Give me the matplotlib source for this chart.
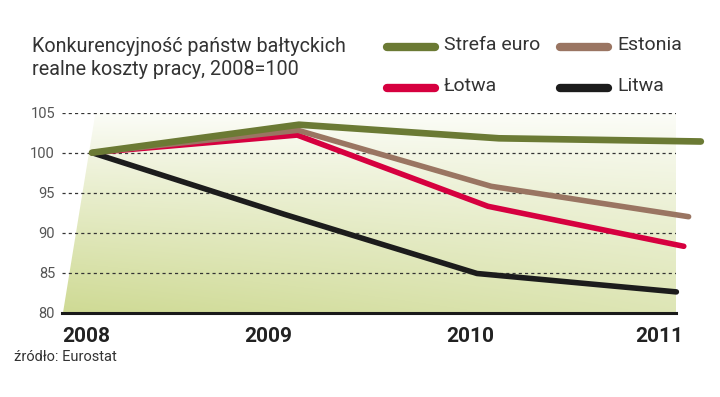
import matplotlib
matplotlib.use("Agg")
import matplotlib.pyplot as plt
import numpy as np
from matplotlib.lines import Line2D
from matplotlib.patches import Polygon

plt.rcParams["font.family"] = ["Roboto", "DejaVu Sans"]

years = [2008, 2009, 2010, 2011]
year_labels = ["2008", "2009", "2010", "2011"]
strefa_euro = [100, 103.5, 101.8, 101.4]
estonia = [100, 102.8, 95.8, 92.0]
lotwa = [100, 102.2, 93.3, 88.3]
litwa = [100, 92.3, 84.9, 82.6]
y_ticks = [80, 85, 90, 95, 100, 105]

title = "Konkurencyjność państw bałtyckich\nrealne koszty pracy, 2008=100"
source = "źródło: Eurostat"

W, H = 720, 397
fig = plt.figure(figsize=(W / 100, H / 100), dpi=100)
fig.patch.set_facecolor("white")

# axes box in pixels: x 62..676, y (80) 312.7 .. (105) 112.7
ax = fig.add_axes([62 / W, 1 - 312.7 / H, (676 - 62) / W, 200 / H])
px_per_year = 202.3
x_left = 2008 - 4 / px_per_year
x_right = 2011 + 3 / px_per_year
ax.set_xlim(x_left, x_right)
ax.set_ylim(80, 105)
ax.set_facecolor("none")

# the chart is drawn slanted: x shifts right as value grows
skew = 1.3 / px_per_year


def slant(xs, vs):
    return np.asarray(xs, float) + skew * (np.asarray(vs, float) - 80)


# gradient parallelogram behind the lines
bx0 = 2008 - 3 / px_per_year
bx1 = 2011 + 4 / px_per_year
corners = [(bx0, 80), (bx1, 80), (bx1 + skew * 25, 105), (bx0 + skew * 25, 105)]
poly = Polygon(corners, closed=True, facecolor="none", edgecolor="none")
ax.add_patch(poly)
ny, nx = 200, 300
gy = np.linspace(1, 0, ny)[:, None]          # row 0 = bottom
gx = np.linspace(0, 1, nx)[None, :]
t = (gy ** 0.9) * (1 - 0.35 * gx)
t = 0.06 + 0.94 * t
dark = np.array([0.81, 0.855, 0.58])
img = 1 - t[..., None] * (1 - dark)
im = ax.imshow(img, extent=[bx0, bx1 + skew * 25, 80, 105], origin="lower",
               aspect="auto", zorder=0, interpolation="bilinear")
im.set_clip_path(poly)

for v in y_ticks[1:]:
    ax.axhline(v, color="#333333", lw=0.9, ls=(0, (2.5, 2.5)), zorder=1)

series = [
    ("Łotwa", lotwa, "#d6003f", 4.0),
    ("Litwa", litwa, "#1c1c1c", 4.0),
    ("Estonia", estonia, "#9a7562", 4.0),
    ("Strefa euro", strefa_euro, "#6b7a34", 4.8),
]
for name, vals, col, lw in series:
    ax.plot(slant(years, vals), vals, color=col, lw=lw, solid_capstyle="round",
            solid_joinstyle="round", clip_on=False, zorder=3)

for s in ["top", "right", "left"]:
    ax.spines[s].set_visible(False)
ax.spines["bottom"].set_color("#1a1a1a")
ax.spines["bottom"].set_linewidth(2.2)
ax.spines["bottom"].set_zorder(4)

ax.set_yticks(y_ticks)
ax.set_yticklabels([str(v) for v in y_ticks])
ax.tick_params(axis="y", length=0, pad=5, labelsize=10.5, labelcolor="#555555")
ax.set_xticks([])

# year labels sit ~14 px below the axis
for i, (yr, lab) in enumerate(zip(years, year_labels)):
    if i == 0:
        xx, ha = x_left, "left"
    elif i == len(years) - 1:
        xx, ha = yr + 10 / px_per_year, "right"
    else:
        xx, ha = yr, "center"
    ax.text(xx, 80 - 14 / 8, lab, ha=ha, va="top", fontsize=15,
            fontweight="bold", color="#222222")

fig.text(32 / W, 1 - 37 / H, title, ha="left", va="top", fontsize=14.2,
         color="#333333", linespacing=1.25)
fig.text(14 / W, 1 - 357 / H, source, ha="left", va="center", fontsize=10.5,
         color="#333333")

# legend drawn by hand, two rows of two
legend_items = [("Strefa euro", "#6b7a34"), ("Estonia", "#9a7562"),
                ("Łotwa", "#d6003f"), ("Litwa", "#1c1c1c")]
col_x = [387, 560]
row_y = [47, 88]
for i, (name, col) in enumerate(legend_items):
    x0 = col_x[i % 2]
    yy = row_y[i // 2]
    fig.add_artist(Line2D([x0 / W, (x0 + 48) / W], [1 - yy / H, 1 - yy / H],
                          color=col, lw=6, solid_capstyle="round"))
    fig.text((x0 + 57) / W, 1 - (yy - 2) / H, name, ha="left", va="center",
             fontsize=14, color="#333333")

fig.savefig("out.png", dpi=100)
